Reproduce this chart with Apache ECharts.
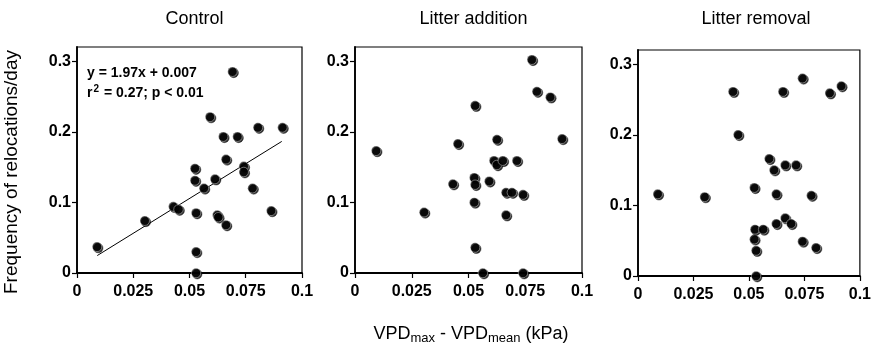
<!DOCTYPE html>
<html>
<head>
<meta charset="utf-8">
<script src="https://cdn.jsdelivr.net/npm/echarts@6/dist/echarts.min.js"></script>
<style>html,body{margin:0;padding:0;background:#fff}#c{width:874px;height:351px}</style>
</head>
<body>
<div id="c"></div>
<script>
var panelTitles = ['Control', 'Litter addition', 'Litter removal'];
var xTicks = [0, 0.025, 0.05, 0.075, 0.1];
var yTicks = [0, 0.1, 0.2, 0.3];

var controlData = [
  [0.0089, 0.037], [0.0301, 0.074], [0.0428, 0.094], [0.0451, 0.090],
  [0.0524, 0.148], [0.0524, 0.131], [0.0529, 0.085], [0.0529, 0.030],
  [0.0529, 0.000], [0.0564, 0.120], [0.0591, 0.221], [0.0613, 0.133],
  [0.0623, 0.082], [0.0628, 0.079], [0.0662, 0.068], [0.0662, 0.161],
  [0.0650, 0.193], [0.0691, 0.285], [0.0713, 0.193], [0.0741, 0.151],
  [0.0741, 0.143], [0.0780, 0.120], [0.0804, 0.206], [0.0863, 0.088],
  [0.0913, 0.206]
];
var additionData = [
  [0.0093, 0.173], [0.0304, 0.086], [0.0431, 0.126], [0.0453, 0.183],
  [0.0525, 0.135], [0.0529, 0.125], [0.0525, 0.100], [0.0529, 0.237],
  [0.0529, 0.036], [0.0563, 0.000], [0.0591, 0.130], [0.0612, 0.159],
  [0.0625, 0.153], [0.0625, 0.189], [0.0651, 0.159], [0.0665, 0.114],
  [0.0691, 0.114], [0.0665, 0.082], [0.0713, 0.159], [0.0740, 0.111],
  [0.0740, 0.000], [0.0779, 0.302], [0.0801, 0.257], [0.0860, 0.249],
  [0.0912, 0.190]
];
var removalData = [
  [0.0089, 0.116], [0.0300, 0.112], [0.0428, 0.261], [0.0451, 0.200],
  [0.0524, 0.125], [0.0524, 0.052], [0.0527, 0.066], [0.0532, 0.036],
  [0.0532, 0.000], [0.0564, 0.066], [0.0591, 0.166], [0.0613, 0.150],
  [0.0623, 0.116], [0.0623, 0.074], [0.0653, 0.261], [0.0663, 0.157],
  [0.0663, 0.082], [0.0690, 0.074], [0.0712, 0.157], [0.0741, 0.280],
  [0.0741, 0.049], [0.0781, 0.114], [0.0802, 0.040], [0.0864, 0.259],
  [0.0916, 0.269]
];
// regression line endpoints for Control (y = 1.97x + 0.007)
var controlFit = [[0.009, 0.0247], [0.091, 0.1863]];
var eqLine1 = 'y = 1.97x + 0.007';
var eqLine2 = ['r', '2', ' = 0.27; p < 0.01'];

var panels = [controlData, additionData, removalData];
var grids = [
  {left: 77, top: 47, width: 225, height: 226},
  {left: 355, top: 47, width: 227, height: 226},
  {left: 638, top: 50, width: 226, height: 226}
];

var FONT = '"Liberation Sans", Arial, sans-serif';
var chart = echarts.init(document.getElementById('c'), null, {renderer: 'canvas'});

var option = {
  backgroundColor: '#fff',
  animation: false,
  title: panelTitles.map(function (t, i) {
    return {
      text: t, left: grids[i].left + grids[i].width / 2, top: 5, textAlign: 'center',
      textStyle: {fontFamily: FONT, fontSize: 18, fontWeight: 'normal', color: '#000'}
    };
  }),
  grid: grids.map(function (g) {
    return {left: g.left, top: g.top, width: g.width, height: g.height,
      show: true, borderColor: '#000', borderWidth: 1.2, backgroundColor: 'transparent'};
  }),
  xAxis: grids.map(function (g, i) {
    return {
      type: 'value', gridIndex: i, min: 0, max: 0.1, interval: 0.025,
      axisLine: {show: true, onZero: false, lineStyle: {color: '#000', width: 1.8}},
      axisTick: {show: true, length: 5, lineStyle: {color: '#000', width: 1.2}},
      splitLine: {show: false},
      axisLabel: {
        color: '#000', fontFamily: FONT, fontWeight: 'bold', fontSize: 16, margin: 11,
        formatter: function (v) {
          for (var k = 0; k < xTicks.length; k++) if (Math.abs(v - xTicks[k]) < 1e-9) return String(xTicks[k]);
          return '';
        }
      }
    };
  }),
  yAxis: grids.map(function (g, i) {
    return {
      type: 'value', gridIndex: i, min: 0, max: 0.32, interval: 0.1,
      axisLine: {show: true, onZero: false, lineStyle: {color: '#000', width: 1.8}},
      axisTick: {show: true, length: 5, lineStyle: {color: '#000', width: 1.2}},
      splitLine: {show: false},
      axisLabel: {
        color: '#000', fontFamily: FONT, fontWeight: 'bold', fontSize: 16, margin: 6,
        showMaxLabel: false,
        formatter: function (v) {
          for (var k = 0; k < yTicks.length; k++) if (Math.abs(v - yTicks[k]) < 1e-9) return String(yTicks[k]);
          return '';
        }
      }
    };
  }),
  series: panels.map(function (d, i) {
    return {
      type: 'scatter', xAxisIndex: i, yAxisIndex: i, data: d, symbol: 'circle', symbolSize: 9.5,
      clip: false, z: 5,
      itemStyle: {color: '#000', borderColor: '#fff', borderWidth: 0.5,
        shadowColor: '#000', shadowBlur: 0, shadowOffsetX: 1.2, shadowOffsetY: 1.2}
    };
  }).concat([{
    type: 'line', xAxisIndex: 0, yAxisIndex: 0, data: controlFit, showSymbol: false,
    symbol: 'none', lineStyle: {color: '#000', width: 1}, z: 3
  }]),
  graphic: [
    {
      type: 'text', left: 87, top: 66, z: 10,
      style: {text: eqLine1, font: 'bold 14px ' + FONT, fill: '#000'}
    },
    {
      type: 'text', left: 87, top: 84, z: 10,
      style: {
        text: '{a|' + eqLine2[0] + '}{s|' + eqLine2[1] + '}{a|' + eqLine2[2] + '}',
        rich: {
          a: {font: 'bold 14px ' + FONT, fill: '#000', verticalAlign: 'bottom'},
          s: {font: 'bold 10px ' + FONT, fill: '#000', verticalAlign: 'top', padding: [0, 1, 6, 1]}
        }
      }
    },
    {
      type: 'text', x: 12, y: 172, rotation: Math.PI / 2, z: 10,
      style: {text: 'Frequency of relocations/day', font: '19px ' + FONT, fill: '#000',
        textAlign: 'center', textVerticalAlign: 'middle'}
    },
    {
      type: 'text', x: 471, y: 335, z: 10,
      style: {
        text: '{b|VPD}{s|max}{b| - VPD}{s|mean}{b| (kPa)}',
        textAlign: 'center', textVerticalAlign: 'middle',
        rich: {
          b: {font: '18px ' + FONT, fill: '#000', verticalAlign: 'top', lineHeight: 20},
          s: {font: '13px ' + FONT, fill: '#000', verticalAlign: 'bottom', padding: [14, 0, 0, 0], lineHeight: 14}
        }
      }
    }
  ]
};
chart.setOption(option);
</script>
</body>
</html>
